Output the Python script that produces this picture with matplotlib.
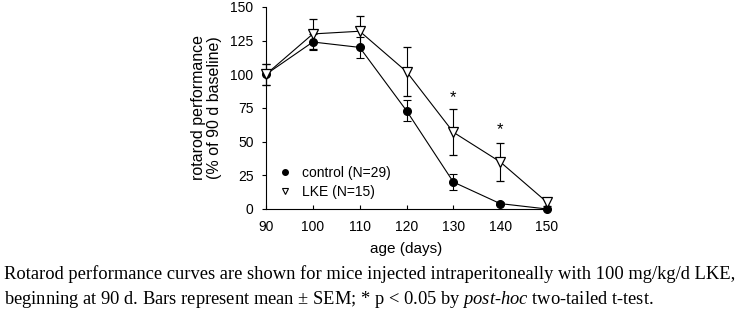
import matplotlib
matplotlib.use("Agg")
from matplotlib import pyplot as plt
from matplotlib.lines import Line2D

# data
age = [90, 100, 110, 120, 130, 140, 150]
control_mean = [100, 124, 120, 73, 20, 4, 0]
control_sem = [8, 6, 8, 8, 6, 1, 0]
lke_mean = [100, 130, 132, 102, 57, 35, 5]
lke_sem = [8, 11, 11, 18, 17, 14, 3]
star_ages = [130, 140]
star_y = [83, 59]

plt.rcParams['font.family'] = ['Liberation Sans', 'DejaVu Sans']
plt.rcParams['mathtext.fontset'] = 'custom'
plt.rcParams['mathtext.rm'] = 'Liberation Serif'
plt.rcParams['mathtext.it'] = 'Liberation Serif:italic'

fig = plt.figure(figsize=(7.4, 3.11), dpi=100)
ax = fig.add_axes([0.3595, 0.328, 0.3797, 0.6495])

ax.errorbar(age, control_mean, yerr=control_sem, color='black', lw=0.8,
            marker='o', ms=5.5, mfc='black', mec='black', capsize=3,
            elinewidth=0.8, capthick=0.8, clip_on=False, zorder=3)
ax.errorbar(age, lke_mean, yerr=lke_sem, color='black', lw=0.8,
            marker='v', ms=6.5, mfc='white', mec='black', mew=0.9,
            capsize=3, elinewidth=0.8, capthick=0.8, clip_on=False, zorder=4)
for xs, ys in zip(star_ages, star_y):
    ax.text(xs, ys, '*', ha='center', va='center', fontsize=12)

ax.set_xlim(90, 150)
ax.set_ylim(0, 150)
ax.set_xticks(age)
ax.set_yticks([0, 25, 50, 75, 100, 125, 150])
ax.spines['top'].set_visible(False)
ax.spines['right'].set_visible(False)
ax.spines['left'].set_linewidth(0.8)
ax.spines['bottom'].set_linewidth(0.8)
ax.tick_params(axis='y', labelsize=10, length=3, width=0.8, pad=6)
ax.tick_params(axis='x', labelsize=10, length=3, width=0.8, pad=8,
               direction='in')
ax.set_xlabel('age (days)', fontsize=11, labelpad=6)
ax.set_ylabel('rotarod performance\n(% of 90 d baseline)', fontsize=11.5,
              labelpad=6, linespacing=1.1)

handles = [
    Line2D([], [], ls='none', marker='o', ms=4, mfc='black', mec='black'),
    Line2D([], [], ls='none', marker='v', ms=4.5, mfc='white', mec='black',
           mew=0.8),
]
ax.legend(handles, ['control (N=29)', 'LKE (N=15)'], loc='lower left',
          frameon=False, fontsize=10, handlelength=1.0, handletextpad=0.7,
          labelspacing=0.35, bbox_to_anchor=(0.0, -0.01))

serif = ['Liberation Serif', 'DejaVu Serif']
fig.text(0.005, 1 - 279 / 311,
         "Rotarod performance curves are shown for mice injected intraperitoneally with 100 mg/kg/d LKE,",
         ha='left', va='baseline', fontsize=13.3, family=serif)
fig.text(0.005, 1 - 304 / 311,
         "beginning at 90 d. Bars represent mean \u00b1 SEM; * p < 0.05 by $\\it{post}$-$\\it{hoc}$ two-tailed t-test.",
         ha='left', va='baseline', fontsize=13.3, family=serif)

fig.savefig('out.png', dpi=100)
